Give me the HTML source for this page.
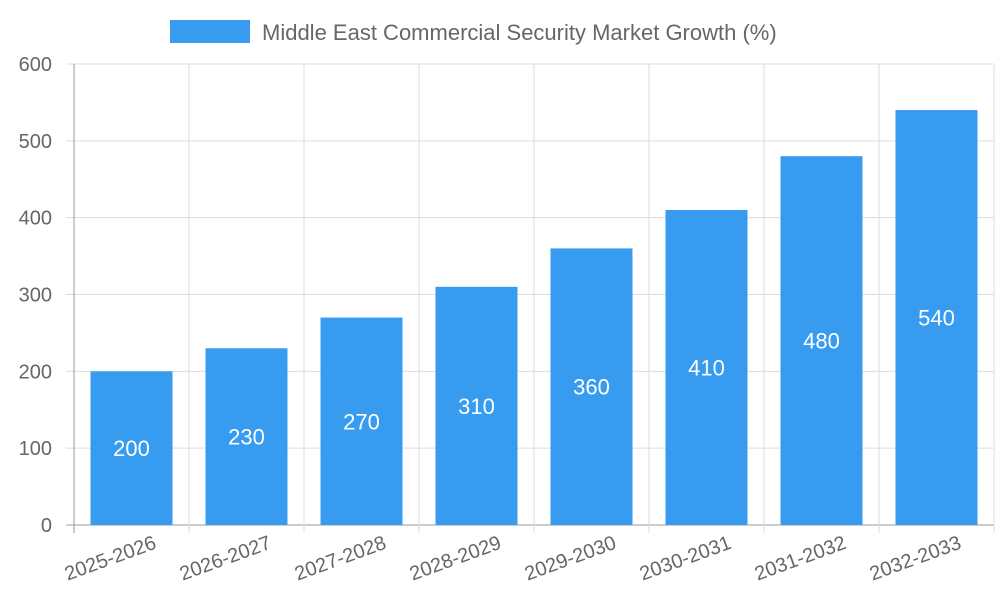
<!DOCTYPE html>
<html><head><meta charset="utf-8"><style>
body{margin:0;background:#fff;}
svg{display:block;font-family:"Liberation Sans",sans-serif;}
</style></head><body>
<svg id="chart" width="1000" height="600">
<g id="legend">
<rect x="170" y="20" width="80" height="23" fill="#379bf0"></rect>
<text x="262" y="40" font-size="22" fill="#666">Middle East Commercial Security Market Growth (%)</text>
</g>
<g id="grid"></g><g id="bars"></g><g id="labels"></g>
</svg>
<script>
const categories=["2025-2026","2026-2027","2027-2028","2028-2029","2029-2030","2030-2031","2031-2032","2032-2033"];
const values=[200,230,270,310,360,410,480,540];
const yTicks=[0,100,200,300,400,500,600];
const NS="http://www.w3.org/2000/svg";
const L=74,R=994,T=64,B=525,yMax=600;
const y=v=>B-(v/yMax)*(B-T);
const bw=(R-L)/categories.length;
const x=i=>L+i*bw;
function mk(tag,attrs,parent,text){const e=document.createElementNS(NS,tag);for(const k in attrs)e.setAttribute(k,attrs[k]);if(text!==undefined)e.textContent=text;parent.appendChild(e);return e;}
const grid=document.getElementById('grid'),bars=document.getElementById('bars'),labels=document.getElementById('labels');
yTicks.forEach(t=>{
 const l=mk('line',{x1:66,x2:R,y1:y(t),y2:y(t),stroke:t===0?'#999':'#ddd','stroke-width':1},grid);
 
 
 const tx=mk('text',{x:52,y:y(t)+7,'font-size':20,fill:'#666','text-anchor':'end'},grid,t);
 
 
});
for(let i=0;i<=categories.length;i++){
 const l=mk('line',{x1:x(i),x2:x(i),y1:T,y2:B+8,stroke:i===0?'#999':'#ddd','stroke-width':1},grid);
 
 
}
categories.forEach((c,i)=>{
 const cx=x(i)+bw/2,w=82;
 const r=mk('rect',{x:cx-w/2,y:y(values[i]),width:w,height:B-y(values[i]),fill:'#379bf0'},bars);
 
 
 const v=mk('text',{x:cx,y:(y(values[i])+B)/2+8,'font-size':22,fill:'#fff','text-anchor':'middle'},labels,values[i]);
 
 
 const lx=cx+26,ly=548;
 const t=mk('text',{x:lx,y:ly,'font-size':20,fill:'#666','text-anchor':'end',transform:`rotate(-20 ${lx} ${ly})`},labels,c);
 
 
});
</script>
</body></html>
